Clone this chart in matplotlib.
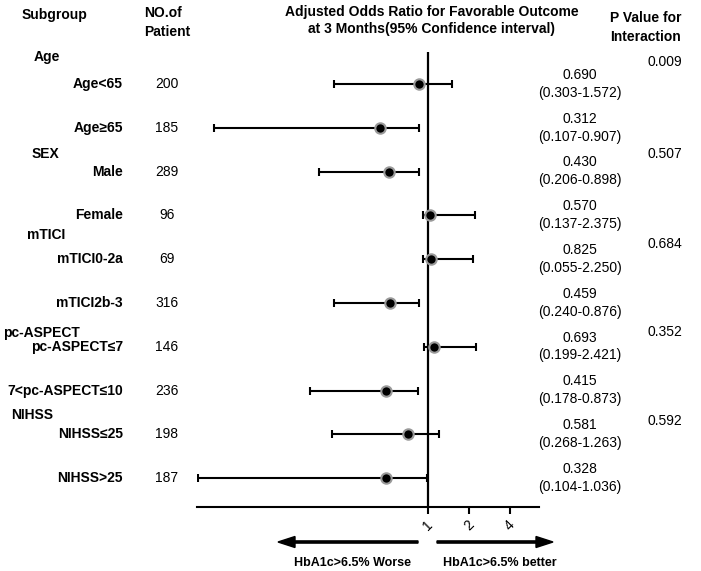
import numpy as np
import matplotlib
matplotlib.use('Agg')
import matplotlib.pyplot as plt
from matplotlib.ticker import NullLocator
from matplotlib.transforms import blended_transform_factory

plt.rcParams['font.family'] = ['Liberation Sans', 'DejaVu Sans']

# Data for the forest plot
subgroups = ['Age<65', 'Age≥65', 'Male', 'Female', 'mTICI0-2a', 'mTICI2b-3',
             'pc-ASPECT≤7', '7<pc-ASPECT≤10', 'NIHSS≤25', 'NIHSS>25']
n_patients = [200, 185, 289, 96, 69, 316, 146, 236, 198, 187]
or_text = ['0.690', '0.312', '0.430', '0.570', '0.825', '0.459', '0.693', '0.415', '0.581', '0.328']
ci_text = ['(0.303-1.572)', '(0.107-0.907)', '(0.206-0.898)', '(0.137-2.375)', '(0.055-2.250)',
           '(0.240-0.876)', '(0.199-2.421)', '(0.178-0.873)', '(0.268-1.263)', '(0.104-1.036)']

# marks as they are drawn in the picture (log2 axis)
est_drawn = [0.859, 0.444, 0.517, 1.034, 1.052, 0.526, 1.107, 0.491, 0.713, 0.491]
lo_drawn = [0.204, 0.0268, 0.158, 0.919, 0.919, 0.204, 0.935, 0.136, 0.197, 0.0206]
hi_drawn = [1.50, 0.859, 0.859, 2.21, 2.14, 0.859, 2.25, 0.845, 1.204, 0.983]

categories = ['Age', 'SEX', 'mTICI', 'pc-ASPECT', 'NIHSS']
cat_rows = [0, 2, 4, 6, 8]
p_values = ['0.009', '0.507', '0.684', '0.352', '0.592']

# layout for the category headers
cat_x = [34, 32, 27, 3, 11]
cat_dy = [-0.62, -0.41, -0.55, -0.32, -0.43]
p_dy = [-0.5, -0.41, -0.34, -0.34, -0.3]

W, H = 701, 571
fig = plt.figure(figsize=(W / 100, H / 100), dpi=100)
ax = fig.add_axes([197 / W, 64 / H, 342 / W, 455 / H])

def fx(px):
    return px / W

def fy(py):
    return 1 - py / H

rows = np.arange(len(subgroups))
est = np.array(est_drawn)
lo = np.array(lo_drawn)
hi = np.array(hi_drawn)

ax.axvline(1, color='black', lw=1.6, zorder=2)
ax.errorbar(est, rows, xerr=[est - lo, hi - est], fmt='o', color='black',
            ecolor='black', elinewidth=1.5, capsize=3.2, capthick=1.5,
            markersize=7.5, markerfacecolor='black', markeredgecolor='#9a9a9a',
            markeredgewidth=1.5, zorder=3)

ax.set_xscale('log', base=2)
ax.set_xlim(0.0202, 6.53)
ax.set_ylim(9.66, -0.73)
ax.set_xticks([1, 2, 4])
ax.set_xticklabels(['1', '2', '4'], rotation=45, ha='center', fontsize=10)
ax.xaxis.set_minor_locator(NullLocator())
ax.tick_params(axis='x', direction='out', length=5, width=1.5, pad=3)
ax.set_yticks([])
for s in ['top', 'right', 'left']:
    ax.spines[s].set_visible(False)
ax.spines['bottom'].set_linewidth(1.5)

# column headers
fig.text(fx(22), fy(15), 'Subgroup', fontsize=10, fontweight='bold', va='center')
fig.text(fx(144), fy(13), 'NO.of', fontsize=10, fontweight='bold', va='center')
fig.text(fx(144), fy(32), 'Patient', fontsize=10, fontweight='bold', va='center')
fig.text(fx(432), fy(12), 'Adjusted Odds Ratio for Favorable Outcome', fontsize=10,
         fontweight='bold', va='center', ha='center')
fig.text(fx(432), fy(29), 'at 3 Months(95% Confidence interval)', fontsize=10,
         fontweight='bold', va='center', ha='center')
fig.text(fx(610), fy(18), 'P Value for', fontsize=10, fontweight='bold', va='center')
fig.text(fx(610), fy(37), 'Interaction', fontsize=10, fontweight='bold', va='center')

trans = blended_transform_factory(fig.transFigure, ax.transData)
for i in rows:
    fig.text(fx(123), i, subgroups[i], transform=trans, fontsize=10,
             fontweight='bold', ha='right', va='center')
    fig.text(fx(167), i, str(n_patients[i]), transform=trans, fontsize=10,
             ha='center', va='center')
    fig.text(fx(580), i - 0.21, or_text[i], transform=trans, fontsize=10,
             ha='center', va='center')
    fig.text(fx(580), i + 0.2, ci_text[i], transform=trans, fontsize=10,
             ha='center', va='center')

for k in range(len(categories)):
    fig.text(fx(cat_x[k]), cat_rows[k] + cat_dy[k], categories[k], transform=trans,
             fontsize=10, fontweight='bold', ha='left', va='center')
    fig.text(fx(665), cat_rows[k] + p_dy[k], p_values[k], transform=trans,
             fontsize=10, ha='center', va='center')

# direction arrows
fig.patches.append(matplotlib.patches.FancyArrow(
    fx(418), fy(542), fx(278) - fx(418), 0, width=2.2 / H, head_width=11 / H,
    head_length=17 / W, length_includes_head=True, color='black',
    transform=fig.transFigure, figure=fig))
fig.patches.append(matplotlib.patches.FancyArrow(
    fx(437), fy(542), fx(553) - fx(437), 0, width=2.2 / H, head_width=11 / H,
    head_length=17 / W, length_includes_head=True, color='black',
    transform=fig.transFigure, figure=fig))
fig.text(fx(352), fy(563), 'HbA1c>6.5% Worse', fontsize=9, fontweight='bold',
         ha='center', va='center')
fig.text(fx(500), fy(563), 'HbA1c>6.5% better', fontsize=9, fontweight='bold',
         ha='center', va='center')

fig.savefig('out.png', dpi=100)
